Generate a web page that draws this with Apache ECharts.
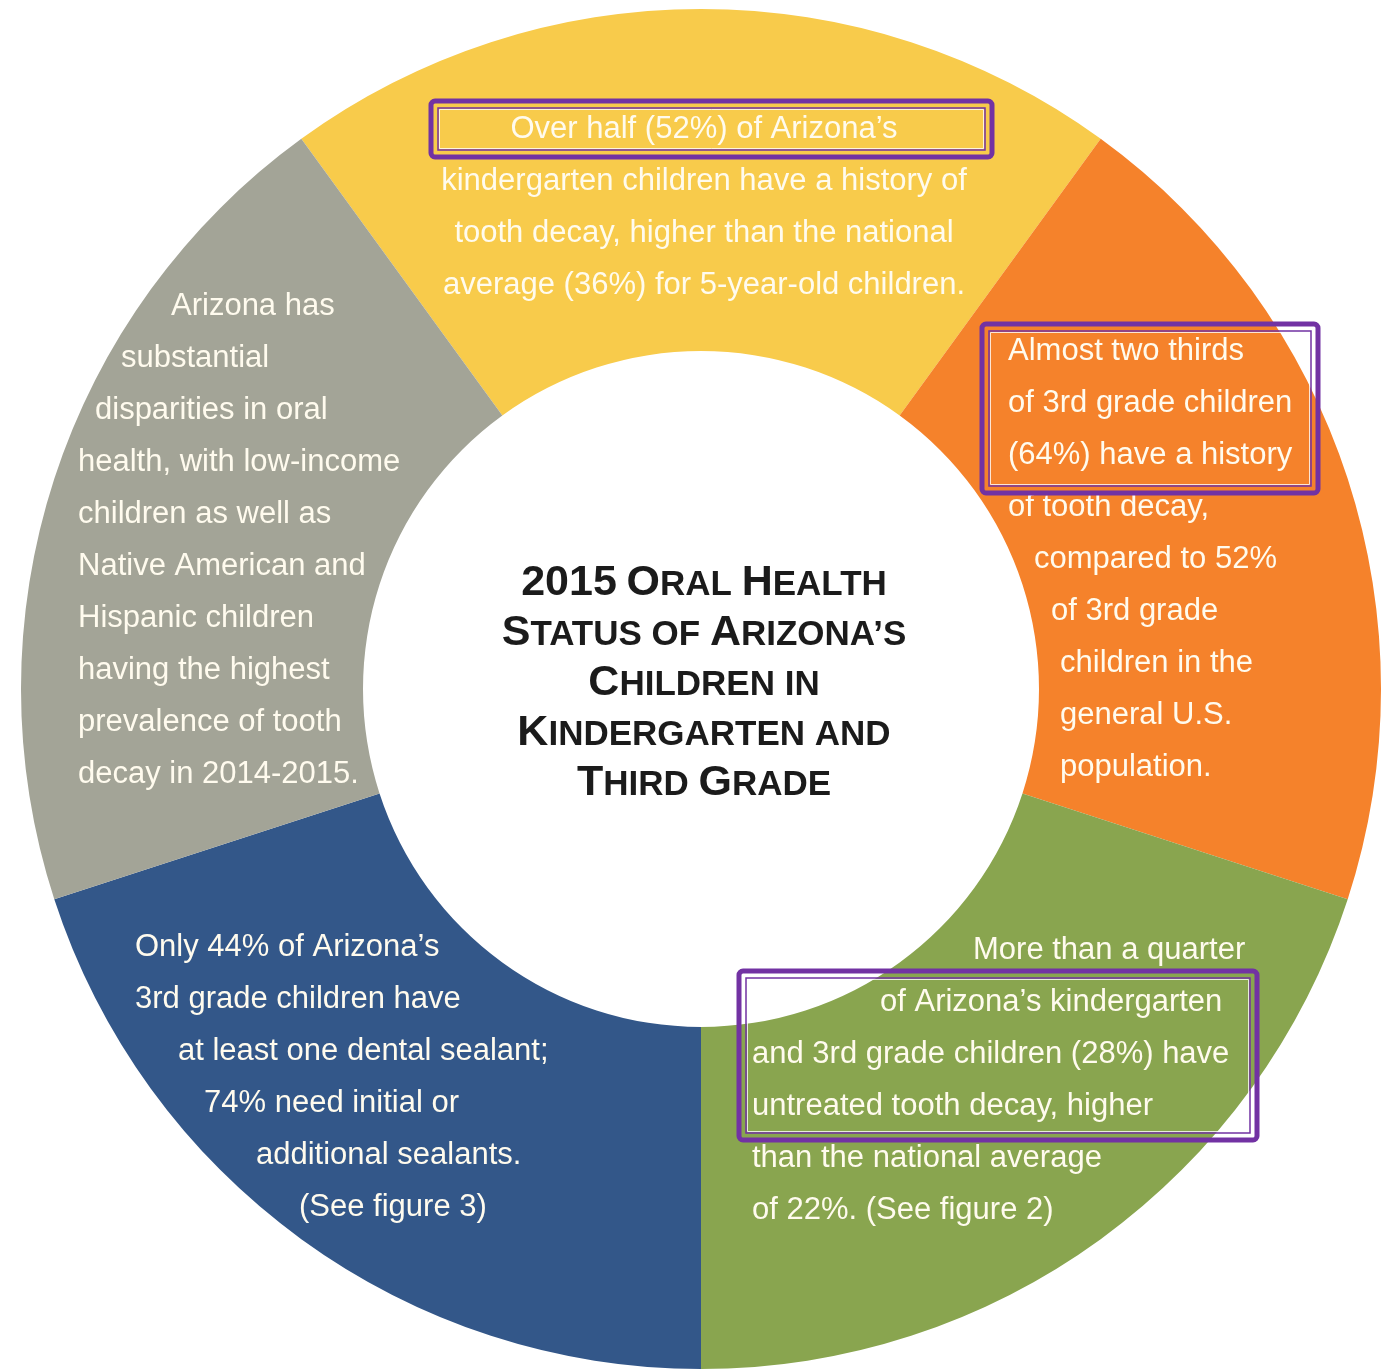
<!DOCTYPE html>
<html>
<head>
<meta charset="utf-8">
<title>2015 Oral Health Status of Arizona's Children</title>
<script src="https://cdn.jsdelivr.net/npm/echarts@6/dist/echarts.min.js"></script>
<style>
  html, body { margin: 0; padding: 0; background: #fff; }
  #chart { width: 1392px; height: 1369px; }
</style>
</head>
<body>
<div id="chart"></div>
<script>
  // five equal wedges, clockwise from the top
  var segmentNames = ['Kindergarten decay', 'Third grade decay', 'Untreated decay', 'Sealants', 'Disparities']
  var segmentValues = [20, 20, 20, 20, 20]

  var titleLines = ['2015 Oral Health', 'Status of Arizona’s', 'Children in', 'Kindergarten and', 'Third Grade']

  var yellowLines = [
    'Over half (52%) of Arizona’s',
    'kindergarten children have a history of',
    'tooth decay, higher than the national',
    'average (36%) for 5-year-old children.'
  ]
  var orangeLines = [
    'Almost two thirds',
    'of 3rd grade children',
    '(64%) have a history',
    'of tooth decay,',
    'compared to 52%',
    'of 3rd grade',
    'children in the',
    'general U.S.',
    'population.'
  ]
  var greenLines = [
    'More than a quarter',
    'of Arizona’s kindergarten',
    'and 3rd grade children (28%) have',
    'untreated tooth decay, higher',
    'than the national average',
    'of 22%. (See figure 2)'
  ]
  var blueLines = [
    'Only 44% of Arizona’s',
    '3rd grade children have',
    'at least one dental sealant;',
    '74% need initial or',
    'additional sealants.',
    '(See figure 3)'
  ]
  var grayLines = [
    'Arizona has',
    'substantial',
    'disparities in oral',
    'health, with low-income',
    'children as well as',
    'Native American and',
    'Hispanic children',
    'having the highest',
    'prevalence of tooth',
    'decay in 2014-2015.'
  ]

  // layout of the text blocks (kept apart from the data above)
  var colors = ['#F8CB4B', '#F5822B', '#89A54F', '#335789', '#A3A497']
  var textColor = '#FFFBEE'
  var bodyFont = '31px "Liberation Sans", Arial, sans-serif'
  var lineStep = 52
  var blocks = [
    { lines: yellowLines, align: 'center', xs: [704], y0: 129 },
    { lines: orangeLines, align: 'left', xs: [1008, 1008, 1008, 1008, 1034, 1051, 1060, 1060, 1060], y0: 351 },
    { lines: greenLines, align: 'left', xs: [973, 880, 752, 752, 752, 752], y0: 950 },
    { lines: blueLines, align: 'left', xs: [135, 135, 178, 204, 256, 299], y0: 947 },
    { lines: grayLines, align: 'left', xs: [171, 121, 95, 78, 78, 78, 78, 78, 78, 78], y0: 306 }
  ]
  var highlightBoxes = [
    [431, 101, 561, 56],
    [982, 324, 336, 169],
    [739, 971, 518, 169]
  ]

  function smallCaps(line) {
    return line.split(' ').map(function(word) {
      if (/^[0-9]/.test(word)) return '{b|' + word + '}'
      if (/^[A-Z]/.test(word)) {
        return '{b|' + word.charAt(0) + '}' + (word.length > 1 ? '{s|' + word.slice(1).toUpperCase() + '}' : '')
      }
      return '{s|' + word.toUpperCase() + '}'
    }).join('{s| }')
  }

  var graphics = []
  blocks.forEach(function(block) {
    block.lines.forEach(function(line, i) {
      graphics.push({
        type: 'text',
        z: 100,
        x: block.xs.length > 1 ? block.xs[i] : block.xs[0],
        y: block.y0 + i * lineStep,
        silent: true,
        style: {
          text: line,
          font: bodyFont,
          fill: textColor,
          align: block.align,
          verticalAlign: 'middle'
        }
      })
    })
  })

  highlightBoxes.forEach(function(b) {
    graphics.push({
      type: 'rect',
      z: 101,
      silent: true,
      shape: { x: b[0], y: b[1], width: b[2], height: b[3], r: 4 },
      style: { fill: null, stroke: '#7232A3', lineWidth: 5 }
    })
    graphics.push({
      type: 'rect',
      z: 101,
      silent: true,
      shape: { x: b[0] + 7, y: b[1] + 7, width: b[2] - 14, height: b[3] - 14 },
      style: { fill: null, stroke: '#7232A3', lineWidth: 1.5 }
    })
    graphics.push({
      type: 'rect',
      z: 101,
      silent: true,
      shape: { x: b[0] + 8.5, y: b[1] + 8.5, width: b[2] - 17, height: b[3] - 17 },
      style: { fill: null, stroke: 'rgba(255,255,255,0.8)', lineWidth: 1 }
    })
  })

  graphics.push({
    type: 'text',
    z: 100,
    x: 704,
    y: 558,
    silent: true,
    style: {
      text: titleLines.map(smallCaps).join('\n'),
      align: 'center',
      verticalAlign: 'top',
      rich: {
        b: { fontSize: 43, fontWeight: 'bold', fontFamily: '"Liberation Sans", Arial, sans-serif', fill: '#1b1b1b', lineHeight: 50 },
        s: { fontSize: 35, fontWeight: 'bold', fontFamily: '"Liberation Sans", Arial, sans-serif', fill: '#1b1b1b', padding: [5, 0, 0, 0] }
      }
    }
  })

  var chart = echarts.init(document.getElementById('chart'))
  chart.setOption({
    backgroundColor: '#fff',
    animation: false,
    color: colors,
    series: [{
      type: 'pie',
      radius: [338, 680],
      center: [701, 689],
      startAngle: 126,
      clockwise: true,
      silent: true,
      label: { show: false },
      labelLine: { show: false },
      emphasis: { disabled: true },
      itemStyle: { borderWidth: 0 },
      data: segmentNames.map(function(name, i) {
        return { name: name, value: segmentValues[i] }
      })
    }],
    graphic: graphics
  })
</script>
</body>
</html>
